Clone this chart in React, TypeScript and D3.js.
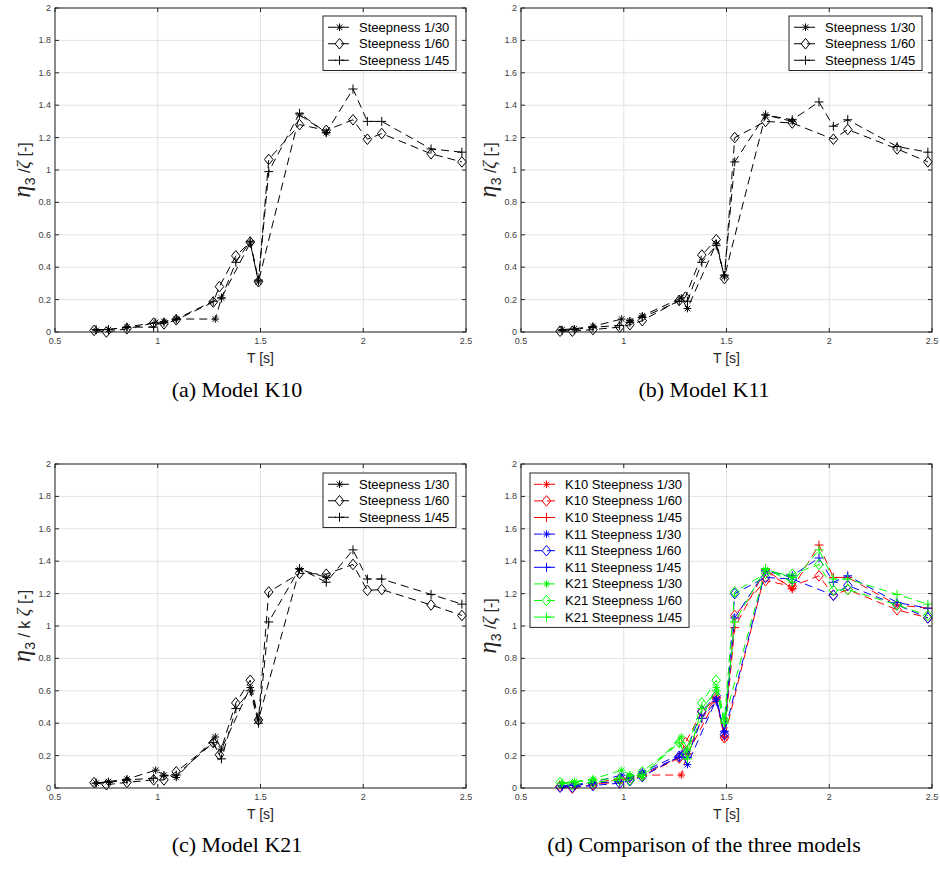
import React from "react";
import * as d3 from "d3";

// ---- Data ----
const T30 = [0.70, 0.76, 0.85, 0.99, 1.03, 1.09, 1.28, 1.31, 1.45, 1.49, 1.69, 1.82];
const T60 = [0.69, 0.75, 0.85, 0.98, 1.03, 1.09, 1.27, 1.30, 1.38, 1.45, 1.49, 1.54, 1.69, 1.82, 1.95, 2.02, 2.09, 2.33, 2.48];
const T45 = [0.70, 0.76, 0.85, 0.98, 1.03, 1.09, 1.27, 1.31, 1.38, 1.45, 1.49, 1.54, 1.69, 1.82, 1.95, 2.02, 2.09, 2.33, 2.48];

const K10_30 = [0.01, 0.015, 0.03, 0.06, 0.065, 0.08, 0.08, 0.21, 0.55, 0.31, 1.34, 1.23];
const K10_60 = [0.01, 0.0, 0.02, 0.055, 0.05, 0.075, 0.185, 0.28, 0.47, 0.555, 0.31, 1.065, 1.28, 1.245, 1.31, 1.19, 1.225, 1.10, 1.05];
const K10_45 = [0.015, 0.015, 0.03, 0.03, 0.06, 0.08, 0.19, 0.21, 0.43, 0.56, 0.32, 0.99, 1.35, 1.23, 1.50, 1.30, 1.30, 1.13, 1.11];

const K11_30 = [0.015, 0.02, 0.035, 0.08, 0.07, 0.10, 0.21, 0.145, 0.545, 0.34, 1.34, 1.30];
const K11_60 = [0.005, 0.005, 0.015, 0.03, 0.045, 0.07, 0.195, 0.215, 0.475, 0.57, 0.33, 1.20, 1.30, 1.29, null, 1.19, 1.25, 1.13, 1.05];
const K11_45 = [0.01, 0.015, 0.03, 0.04, 0.06, 0.09, 0.19, 0.19, 0.43, 0.535, 0.35, 1.05, 1.34, 1.31, 1.42, 1.27, 1.31, 1.145, 1.11];

const K21_30 = [0.03, 0.04, 0.055, 0.11, 0.08, 0.065, 0.315, 0.24, 0.62, 0.42, 1.35, 1.30];
const K21_60 = [0.033, 0.02, 0.035, 0.05, 0.05, 0.10, 0.28, 0.205, 0.525, 0.665, 0.42, 1.21, 1.325, 1.32, 1.38, 1.22, 1.225, 1.13, 1.065];
const K21_45 = [0.03, 0.035, 0.05, 0.06, 0.075, 0.08, 0.28, 0.18, 0.49, 0.60, 0.40, 1.025, 1.355, 1.27, 1.47, 1.29, 1.29, 1.195, 1.135];

const xTicks = [0.5, 1, 1.5, 2, 2.5];
const yTicks = [0, 0.2, 0.4, 0.6, 0.8, 1, 1.2, 1.4, 1.6, 1.8, 2];
const steepLabels = ["Steepness 1/30", "Steepness 1/60", "Steepness 1/45"];
const modelNames = ["K10", "K11", "K21"];
const modelColors = ["#ff0000", "#0000ff", "#00ff00"];
const captions = ["(a) Model K10", "(b) Model K11", "(c) Model K21", "(d) Comparison of the three models"];

type Series = { t: number[]; v: (number | null)[]; marker: string; color: string; label: string };

const steepT = [T30, T60, T45];
const markers = ["star", "diamond", "plus"];
const modelData = [
  [K10_30, K10_60, K10_45],
  [K11_30, K11_60, K11_45],
  [K21_30, K21_60, K21_45],
];

const SANS = "'Liberation Sans', Arial, sans-serif";
const SERIF = "'Liberation Serif', 'Times New Roman', serif";
const DASH = "8,5";

function Marker({ type, x, y, color }: { type: string; x: number; y: number; color: string }) {
  if (type === "diamond") {
    const w = 4.3, h = 5.3;
    return <path d={`M${x},${y - h}L${x + w},${y}L${x},${y + h}L${x - w},${y}Z`} fill="none" stroke={color} strokeWidth={1} />;
  }
  if (type === "plus") {
    const r = 4.5;
    return <path d={`M${x - r},${y}H${x + r}M${x},${y - r}V${y + r}`} stroke={color} strokeWidth={1} />;
  }
  const r = 3.8, q = r * 0.72;
  return (
    <path
      d={`M${x - r},${y}H${x + r}M${x},${y - r}V${y + r}M${x - q},${y - q}L${x + q},${y + q}M${x - q},${y + q}L${x + q},${y - q}`}
      stroke={color}
      strokeWidth={1}
    />
  );
}

function Panel({
  x0, x1, y0, y1, series, yLabel, legend, legendBox, caption, captionX, captionY,
}: {
  x0: number; x1: number; y0: number; y1: number; series: Series[]; yLabel: React.ReactNode;
  legend: Series[]; legendBox: { x: number; y: number; w: number; rowH: number; lineX0: number; lineX1: number; textX: number };
  caption: string; captionX: number; captionY: number;
}) {
  const xs = d3.scaleLinear().domain([0.5, 2.5]).range([x0, x1]);
  const ys = d3.scaleLinear().domain([0, 2]).range([y1, y0]);
  const axisColor = "#262626";
  const tickLen = 4;
  const lb = legendBox;
  const lh = legend.length * lb.rowH + 5;
  return (
    <g>
      <rect x={x0} y={y0} width={x1 - x0} height={y1 - y0} fill="#fff" />
      {xTicks.map((t) => (
        <line key={"gx" + t} x1={xs(t)} x2={xs(t)} y1={y0} y2={y1} stroke="#e3e3e3" strokeWidth={1} />
      ))}
      {yTicks.map((t) => (
        <line key={"gy" + t} x1={x0} x2={x1} y1={ys(t)} y2={ys(t)} stroke="#e3e3e3" strokeWidth={1} />
      ))}
      {series.map((s, i) => {
        const pts = s.t.map((t, j) => [t, s.v[j]] as [number, number | null]).filter((p) => p[1] !== null) as [number, number][];
        const line = d3.line<[number, number]>().x((p) => xs(p[0])).y((p) => ys(p[1]));
        return (
          <g key={"s" + i}>
            <path d={line(pts) || ""} fill="none" stroke={s.color} strokeWidth={1} strokeDasharray={DASH} />
            {pts.map((p, j) => (
              <Marker key={j} type={s.marker} x={xs(p[0])} y={ys(p[1])} color={s.color} />
            ))}
          </g>
        );
      })}
      <rect x={x0} y={y0} width={x1 - x0} height={y1 - y0} fill="none" stroke={axisColor} strokeWidth={1} />
      {xTicks.map((t) => (
        <g key={"tx" + t}>
          <line x1={xs(t)} x2={xs(t)} y1={y1} y2={y1 - tickLen} stroke={axisColor} />
          <line x1={xs(t)} x2={xs(t)} y1={y0} y2={y0 + tickLen} stroke={axisColor} />
          <text x={xs(t)} y={y1 + 12} textAnchor="middle" fontSize={9} fontFamily={SANS} fill="#404040">
            {String(t)}
          </text>
        </g>
      ))}
      {yTicks.map((t) => (
        <g key={"ty" + t}>
          <line x1={x0} x2={x0 + tickLen} y1={ys(t)} y2={ys(t)} stroke={axisColor} />
          <line x1={x1} x2={x1 - tickLen} y1={ys(t)} y2={ys(t)} stroke={axisColor} />
          <text x={x0 - 4} y={ys(t) + 3} textAnchor="end" fontSize={9} fontFamily={SANS} fill="#404040">
            {String(Math.round(t * 10) / 10)}
          </text>
        </g>
      ))}
      <text x={(x0 + x1) / 2} y={y1 + 31} textAnchor="middle" fontSize={14} fontFamily={SANS} fill="#262626">
        T [s]
      </text>
      <g transform={`translate(${x0 - 25},${(y0 + y1) / 2}) rotate(-90)`}>
        <text textAnchor="middle" fontFamily={SANS} fontSize={16} fill="#262626">
          {yLabel}
        </text>
      </g>
      {/* legend */}
      <rect x={lb.x} y={lb.y} width={lb.w} height={lh} fill="#fff" stroke={axisColor} strokeWidth={1} />
      {legend.map((s, i) => {
        const cy = lb.y + 3 + lb.rowH * (i + 0.5);
        return (
          <g key={"l" + i}>
            <line x1={lb.lineX0} x2={lb.lineX1} y1={cy} y2={cy} stroke={s.color} strokeWidth={1} strokeDasharray={DASH} />
            <Marker type={s.marker} x={(lb.lineX0 + lb.lineX1) / 2} y={cy} color={s.color} />
            <text x={lb.textX} y={cy + 4.5} fontSize={13} fontFamily={SANS} fill="#000">
              {s.label}
            </text>
          </g>
        );
      })}
      <text x={captionX} y={captionY} textAnchor="middle" fontSize={22} fontFamily={SERIF} fill="#000">
        {caption}
      </text>
    </g>
  );
}

function YLab({ k }: { k?: boolean }) {
  return (
    <>
      <tspan fontFamily={SERIF} fontStyle="italic" fontSize={25}>η</tspan>
      <tspan fontSize={14} dy={5}>3</tspan>
      <tspan dy={-5}>{k ? " / k " : " /"}</tspan>
      <tspan fontFamily={SERIF} fontStyle="italic" fontSize={19}>ζ</tspan>
      <tspan> [-]</tspan>
    </>
  );
}

export default function App() {
  const blackSeries = (m: number): Series[] =>
    [0, 1, 2].map((i) => ({ t: steepT[i], v: modelData[m][i], marker: markers[i], color: "#000", label: steepLabels[i] }));
  const allSeries: Series[] = [];
  modelNames.forEach((name, m) => {
    [0, 1, 2].forEach((i) => {
      allSeries.push({ t: steepT[i], v: modelData[m][i], marker: markers[i], color: modelColors[m], label: `${name} ${steepLabels[i]}` });
    });
  });
  const smallLegend = (x: number, y: number) => ({ x, y, w: 133, rowH: 16.5, lineX0: x + 5, lineX1: x + 28, textX: x + 36 });
  const top = { y0: 8, y1: 332 };
  const bot = { y0: 464, y1: 788 };
  const left = { x0: 55, x1: 466 };
  const right = { x0: 521, x1: 932 };
  return (
    <svg width={940} height={870} style={{ position: "absolute", left: 0, top: 0, background: "#fff" }}>
      <rect width={940} height={870} fill="#fff" />
      <Panel {...left} {...top} series={blackSeries(0)} legend={blackSeries(0)} legendBox={smallLegend(323, 16)}
        yLabel={<YLab />} caption={captions[0]} captionX={237} captionY={397} />
      <Panel {...right} {...top} series={blackSeries(1)} legend={blackSeries(1)} legendBox={smallLegend(789, 16)}
        yLabel={<YLab />} caption={captions[1]} captionX={704} captionY={397} />
      <Panel {...left} {...bot} series={blackSeries(2)} legend={blackSeries(2)} legendBox={smallLegend(323, 473)}
        yLabel={<YLab k />} caption={captions[2]} captionX={237} captionY={852} />
      <Panel {...right} {...bot} series={allSeries} legend={allSeries}
        legendBox={{ x: 530, y: 473, w: 159, rowH: 16.6, lineX0: 534, lineX1: 559, textX: 565 }}
        yLabel={<YLab />} caption={captions[3]} captionX={704} captionY={852} />
    </svg>
  );
}
